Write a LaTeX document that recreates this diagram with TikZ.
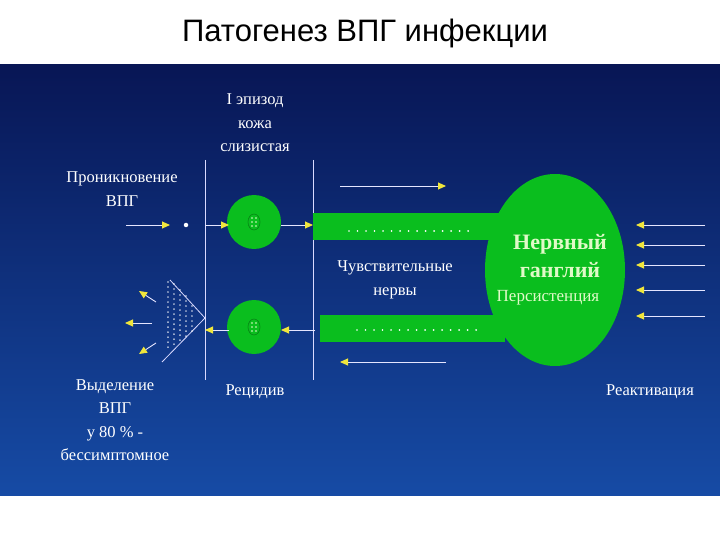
\documentclass[tikz,border=0pt]{standalone}
\usepackage{fontspec}
\setmainfont{Liberation Serif}
\newfontfamily\titlefont{Liberation Sans}
\usetikzlibrary{arrows.meta,shapes.geometric}
\definecolor{gr}{RGB}{10,190,30}
\definecolor{pale}{RGB}{225,250,200}
\definecolor{arr}{RGB}{240,230,60}
\begin{document}
\begin{tikzpicture}[x=1pt,y=-1pt,
  lbl/.style={text=white,font=\fontsize{16.5}{23.5}\selectfont,align=center},
  vline/.style={draw=white!85!blue,line width=0.8pt},
  ar/.style={draw=white!90!blue,line width=0.9pt,-{Triangle[length=8pt,width=7pt,fill=arr,color=arr]}},
  dotl/.style={draw=white,line width=1.8pt,dash pattern=on 0.01pt off 8.5pt,line cap=round}]
\useasboundingbox (0,0) rectangle (720,540);
\fill[white] (0,0) rectangle (720,540);
\node[font=\titlefont\fontsize{31}{34}\selectfont] (title) at (365,33) {Патогенез ВПГ инфекции};
\shade[top color={rgb,255:red,8;green,22;blue,85}, bottom color={rgb,255:red,22;green,75;blue,165}] (0,65) rectangle (720,495);
% lines
\coordinate (l1t) at (205,160); \coordinate (l1b) at (205,380);
\coordinate (l2t) at (313,160); \coordinate (l2b) at (313,380);
\draw[vline] (l1t) -- (l1b); \draw[vline] (l2t) -- (l2b);
% bands and ganglion
\fill[gr] (313,213) rectangle (505,240);
\fill[gr] (320,315) rectangle (505,342);
\node[ellipse,fill=gr,minimum width=140pt,minimum height=192pt,inner sep=0pt] (gang) at (555,270) {};
\draw[dotl] (349,231) -- (470,231);
\draw[dotl] (357,330) -- (480,330);
% circles
\node[circle,fill=gr,minimum size=54pt,inner sep=0pt] (c1) at (254,222) {};
\node[circle,fill=gr,minimum size=54pt,inner sep=0pt] (c2) at (254,327) {};
\foreach \c in {c1,c2}{
  \draw[gr!70!black,line width=0.6pt] (\c) ellipse (6pt and 8pt);
  \foreach \dx in {-2,2} \foreach \dy in {-4,0,4} \fill[pale] ([shift={(\dx,\dy)}]\c.center) circle (0.9pt);}
% texts
\node[lbl] (ep) at (255,123) {I эпизод\\кожа\\слизистая};
\node[lbl] (pr) at (122,189) {Проникновение\\ВПГ};
\node[lbl] (nv) at (395,280) {Чувствительные\\нервы};
\node[text=pale,font=\bfseries\fontsize{22}{28}\selectfont,align=center] (gt) at (560,256) {Нервный\\ганглий};
\node[text=pale,font=\fontsize{17}{19}\selectfont] (pers) at (548,298) {Персистенция};
\node[lbl] (vy) at (115,420) {Выделение\\ВПГ\\у 80 \% -\\бессимптомное};
\node[lbl] (rec) at (255,392) {Рецидив};
\node[lbl] (rea) at (650,392) {Реактивация};
% arrows
\coordinate (e0) at (126,225); \coordinate (e1) at (170,225);
\draw[ar] (e0) -- (e1);
\node[circle,fill=white,inner sep=0pt,minimum size=4.5pt] (vd) at (186,225) {};
\coordinate (a1) at (205,225); \coordinate (a1e) at (229,225); \draw[ar] (a1) -- (a1e);
\coordinate (a2s) at (281,225); \coordinate (a2) at (313,225); \draw[ar] (a2s) -- (a2);
\coordinate (t0) at (340,186); \coordinate (t1) at (446,186); \draw[ar] (t0) -- (t1);
\coordinate (b0) at (446,362); \coordinate (b1) at (340,362); \draw[ar] (b0) -- (b1);
\coordinate (d1) at (315,330); \coordinate (d1e) at (281,330); \draw[ar] (d1) -- (d1e);
\coordinate (d2s) at (229,330); \coordinate (d2) at (205,330); \draw[ar] (d2s) -- (d2);
\foreach \y in {225,245,265,290,316}{\coordinate (r0) at (705,\y); \coordinate (r1) at (636,\y); \draw[ar] (r0) -- (r1);}
% triangle of spread
\coordinate (tr0) at (205,318); \coordinate (tr1) at (170,280); \coordinate (tr2) at (162,362);
\draw[vline] (tr0) -- (tr1); \draw[vline] (tr0) -- (tr2);
\foreach \x/\a/\b in {168/282/352,174/284/348,180/290/344,186/296/340,192/306/334}
  \draw[dotl,line width=1.4pt,dash pattern=on 0.01pt off 5pt] (\x,\a) -- (\x,\b);
\coordinate (s0) at (156,302); \coordinate (s1) at (139,291); \draw[ar] (s0) -- (s1);
\coordinate (s2) at (152,323); \coordinate (s3) at (125,323); \draw[ar] (s2) -- (s3);
\coordinate (s4) at (156,343); \coordinate (s5) at (139,354); \draw[ar] (s4) -- (s5);
\end{tikzpicture}
\end{document}
